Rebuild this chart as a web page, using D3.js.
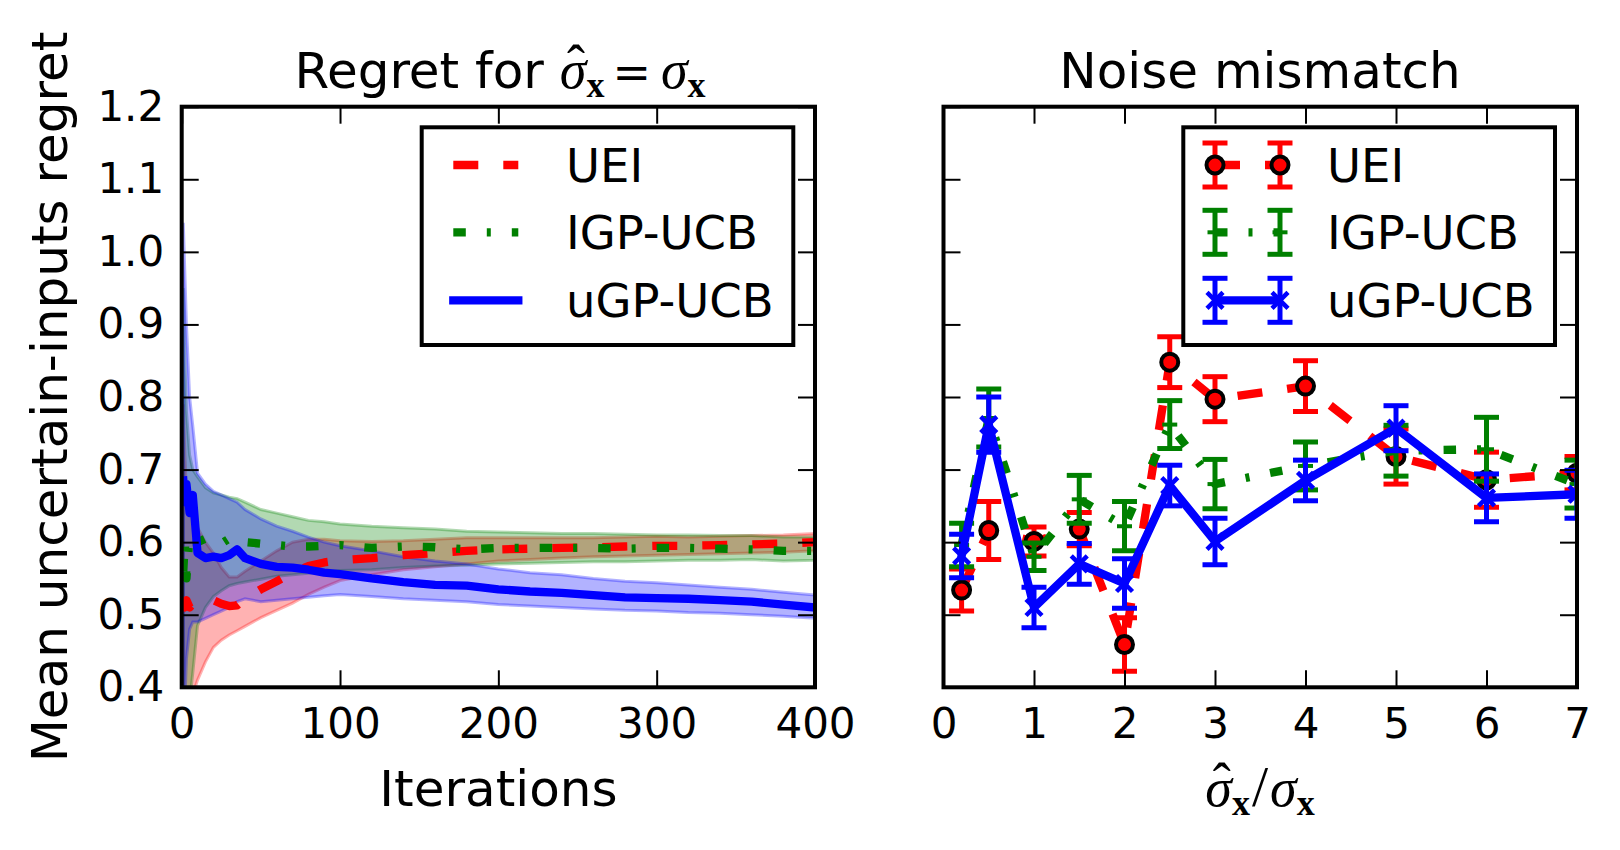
<!DOCTYPE html>
<html>
<head>
<meta charset="utf-8">
<script src="https://cdn.jsdelivr.net/npm/d3@7"></script>
<style>body{margin:0;background:#fff}</style>
</head>
<body>
<div id="chart"></div>
<script>
// left panel: regret vs iterations (mean and band edges)
const iters = [1, 2, 3, 5, 7, 10, 15, 20, 25, 30, 35, 40, 50, 60, 70, 80, 90, 100, 120, 140, 160, 180, 200, 220, 240, 260, 280, 300, 320, 340, 360, 380, 400];
const ueiMean = [0.52, 0.51, 0.52, 0.51, 0.515, 0.515, 0.518, 0.52, 0.515, 0.512, 0.513, 0.522, 0.535, 0.546, 0.558, 0.567, 0.572, 0.575, 0.578, 0.582, 0.585, 0.588, 0.59, 0.591, 0.592, 0.593, 0.594, 0.595, 0.595, 0.596, 0.597, 0.598, 0.6];
const ueiLo = [0.25, 0.3, 0.34, 0.37, 0.39, 0.41, 0.435, 0.455, 0.465, 0.472, 0.478, 0.484, 0.496, 0.506, 0.516, 0.528, 0.538, 0.547, 0.555, 0.562, 0.566, 0.57, 0.574, 0.576, 0.578, 0.58, 0.581, 0.582, 0.583, 0.584, 0.585, 0.586, 0.588];
const ueiHi = [0.79, 0.72, 0.67, 0.65, 0.64, 0.62, 0.6, 0.585, 0.565, 0.552, 0.552, 0.56, 0.574, 0.588, 0.6, 0.604, 0.604, 0.602, 0.601, 0.602, 0.604, 0.606, 0.606, 0.606, 0.606, 0.606, 0.607, 0.608, 0.607, 0.608, 0.609, 0.61, 0.612];
const igpMean = [0.56, 0.6, 0.55, 0.61, 0.6, 0.6, 0.605, 0.6, 0.598, 0.605, 0.603, 0.6, 0.598, 0.596, 0.594, 0.594, 0.595, 0.596, 0.592, 0.594, 0.593, 0.59, 0.592, 0.592, 0.592, 0.592, 0.591, 0.592, 0.592, 0.591, 0.59, 0.588, 0.588];
const igpLo = [0.2, 0.3, 0.34, 0.38, 0.42, 0.485, 0.51, 0.525, 0.533, 0.54, 0.543, 0.545, 0.549, 0.553, 0.555, 0.557, 0.559, 0.561, 0.562, 0.565, 0.567, 0.568, 0.57, 0.571, 0.572, 0.573, 0.573, 0.574, 0.575, 0.575, 0.576, 0.574, 0.575];
const igpHi = [0.95, 0.85, 0.78, 0.72, 0.7, 0.69, 0.675, 0.668, 0.665, 0.662, 0.66, 0.655, 0.645, 0.64, 0.635, 0.63, 0.628, 0.625, 0.622, 0.62, 0.618, 0.615, 0.614, 0.613, 0.612, 0.612, 0.611, 0.61, 0.61, 0.609, 0.609, 0.607, 0.607];
const ugpMean = [0.685, 0.655, 0.68, 0.64, 0.665, 0.585, 0.578, 0.58, 0.578, 0.582, 0.59, 0.578, 0.57, 0.566, 0.565, 0.562, 0.558, 0.556, 0.55, 0.545, 0.541, 0.54, 0.535, 0.532, 0.53, 0.527, 0.524, 0.523, 0.522, 0.52, 0.518, 0.514, 0.51];
const ugpLo = [0.3, 0.38, 0.44, 0.48, 0.49, 0.49, 0.495, 0.5, 0.505, 0.51, 0.518, 0.522, 0.518, 0.52, 0.522, 0.524, 0.526, 0.528, 0.525, 0.522, 0.52, 0.518, 0.514, 0.512, 0.51, 0.508, 0.506, 0.505, 0.503, 0.502, 0.5, 0.498, 0.495];
const ugpHi = [1.04, 0.97, 0.9, 0.8, 0.76, 0.695, 0.68, 0.67, 0.665, 0.66, 0.655, 0.645, 0.632, 0.622, 0.615, 0.607, 0.6, 0.595, 0.588, 0.58, 0.574, 0.57, 0.563, 0.558, 0.555, 0.55, 0.546, 0.544, 0.541, 0.538, 0.535, 0.531, 0.527];

// right panel: noise mismatch
const ratios = [0.2, 0.5, 1, 1.5, 2, 2.5, 3, 4, 5, 6, 7];
const ueiR = [0.534, 0.616, 0.601, 0.618, 0.459, 0.848, 0.797, 0.815, 0.718, 0.686, 0.695];
const ueiErr = [0.029, 0.04, 0.02, 0.023, 0.037, 0.035, 0.031, 0.035, 0.038, 0.038, 0.023];
const igpR = [0.596, 0.771, 0.58, 0.659, 0.622, 0.762, 0.68, 0.705, 0.726, 0.728, 0.68];
const igpErr = [0.03, 0.04, 0.019, 0.033, 0.034, 0.033, 0.034, 0.033, 0.035, 0.044, 0.033];
const ugpR = [0.581, 0.762, 0.51, 0.57, 0.543, 0.678, 0.601, 0.685, 0.757, 0.661, 0.666];
const ugpErr = [0.03, 0.038, 0.028, 0.028, 0.034, 0.028, 0.032, 0.028, 0.031, 0.033, 0.033];

const names = ['UEI', 'IGP-UCB', 'uGP-UCB'];
const colors = ['#ff0000', '#008000', '#0000ff'];
const yTicks = [0.4, 0.5, 0.6, 0.7, 0.8, 0.9, 1.0, 1.1, 1.2];
const xTicksL = [0, 100, 200, 300, 400];
const xTicksR = [0, 1, 2, 3, 4, 5, 6, 7];

const W = 1620, H = 850;
const SANS = '"DejaVu Sans", sans-serif', SERIF = '"Liberation Serif", serif';
const dashes = ['25,25', '12.5,21,4,21', null];
const yTop = 106.7, yBot = 687.3;

const svg = d3.select('#chart').append('svg')
    .attr('width', W).attr('height', H)
    .style('font-family', SANS);
svg.append('rect').attr('width', W).attr('height', H).attr('fill', '#fff');

const y = d3.scaleLinear().domain([0.4, 1.2]).range([yBot, yTop]);
const xL = d3.scaleLinear().domain([0, 400]).range([181.7, 815]);
const xR = d3.scaleLinear().domain([0, 7]).range([943.5, 1577]);

function clip(id, x) {
    svg.append('clipPath').attr('id', id).append('rect')
        .attr('x', x.range()[0]).attr('y', yTop)
        .attr('width', x.range()[1] - x.range()[0]).attr('height', yBot - yTop);
}
clip('clipL', xL);
clip('clipR', xR);

// ---- left panel
const gL = svg.append('g').attr('clip-path', 'url(#clipL)');
const leftData = [[ueiMean, ueiLo, ueiHi], [igpMean, igpLo, igpHi], [ugpMean, ugpLo, ugpHi]];
leftData.forEach(([m, lo, hi], i) => {
    const pts = iters.map((it, k) => ({ it, lo: lo[k], hi: hi[k] }));
    gL.append('path')
        .attr('d', d3.area().x(d => xL(d.it)).y0(d => y(d.lo)).y1(d => y(d.hi))(pts))
        .attr('fill', colors[i]).attr('fill-opacity', 0.3)
        .attr('stroke', colors[i]).attr('stroke-opacity', 0.3).attr('stroke-width', 3);
});
leftData.forEach(([m], i) => {
    const pts = iters.map((it, k) => [xL(it), y(m[k])]);
    gL.append('path')
        .attr('d', d3.line()(pts))
        .attr('fill', 'none').attr('stroke', colors[i]).attr('stroke-width', 8.3)
        .attr('stroke-dasharray', dashes[i])
        .attr('stroke-linecap', dashes[i] ? 'butt' : 'square')
        .attr('stroke-linejoin', 'round');
});

// ---- right panel
const gR = svg.append('g').attr('clip-path', 'url(#clipR)');
const rightData = [[ueiR, ueiErr], [igpR, igpErr], [ugpR, ugpErr]];

function marker(g, i, cx, cy) {
    if (i === 0) {
        g.append('circle').attr('cx', cx).attr('cy', cy).attr('r', 8.5)
            .attr('fill', '#ff0000').attr('stroke', '#000').attr('stroke-width', 4);
    } else if (i === 1) {
        g.append('line').attr('x1', cx - 7.5).attr('x2', cx + 7.5).attr('y1', cy).attr('y2', cy)
            .attr('stroke', colors[1]).attr('stroke-width', 4);
    } else {
        g.append('path').attr('d', `M${cx - 8},${cy - 8}L${cx + 8},${cy + 8}M${cx - 8},${cy + 8}L${cx + 8},${cy - 8}`)
            .attr('stroke', colors[2]).attr('stroke-width', 4.5);
    }
}
function errBar(g, i, cx, y1, y2) {
    g.append('line').attr('x1', cx).attr('x2', cx).attr('y1', y1).attr('y2', y2)
        .attr('stroke', colors[i]).attr('stroke-width', 5);
    [y1, y2].forEach(v => g.append('line').attr('x1', cx - 12.5).attr('x2', cx + 12.5)
        .attr('y1', v).attr('y2', v).attr('stroke', colors[i]).attr('stroke-width', 5));
}

rightData.forEach(([m, e], i) => {
    const g = gR.append('g');
    ratios.forEach((r, k) => errBar(g, i, xR(r), y(m[k] - e[k]), y(m[k] + e[k])));
    g.append('path')
        .attr('d', d3.line()(ratios.map((r, k) => [xR(r), y(m[k])])))
        .attr('fill', 'none').attr('stroke', colors[i]).attr('stroke-width', 8.3)
        .attr('stroke-dasharray', dashes[i])
        .attr('stroke-linecap', dashes[i] ? 'butt' : 'square')
        .attr('stroke-linejoin', 'round');
    ratios.forEach((r, k) => marker(g, i, xR(r), y(m[k])));
});

// ---- axes
function axes(x, xticks, showY) {
    const fs = 42;
    const ax = (a) => a.tickSizeInner(-17).tickSizeOuter(0);
    const b = svg.append('g').attr('transform', `translate(0,${yBot})`)
        .call(ax(d3.axisBottom(x).tickValues(xticks).tickPadding(21)).tickFormat(d3.format('d')));
    const t = svg.append('g').attr('transform', `translate(0,${yTop})`)
        .call(ax(d3.axisTop(x).tickValues(xticks)).tickFormat(''));
    const l = svg.append('g').attr('transform', `translate(${x.range()[0]},0)`)
        .call(ax(d3.axisLeft(y).tickValues(yTicks).tickPadding(17.5))
            .tickFormat(showY ? d3.format('.1f') : ''));
    const r = svg.append('g').attr('transform', `translate(${x.range()[1]},0)`)
        .call(ax(d3.axisRight(y).tickValues(yTicks)).tickFormat(''));
    [b, t, l, r].forEach(g => {
        g.select('.domain').remove();
        g.selectAll('.tick line').attr('stroke', '#000').attr('stroke-width', 2);
        g.selectAll('.tick text').attr('font-size', fs).attr('font-family', SANS).attr('fill', '#000');
    });
    svg.append('rect')
        .attr('x', x.range()[0]).attr('y', yTop)
        .attr('width', x.range()[1] - x.range()[0]).attr('height', yBot - yTop)
        .attr('fill', 'none').attr('stroke', '#000').attr('stroke-width', 4);
}
axes(xL, xTicksL, true);
axes(xR, xTicksR, false);

// ---- math-ish text; a hat is a tspan pulled back over its sigma
function mathText(x, yy, parts) {
    const t = svg.append('text').attr('x', x).attr('y', yy).attr('text-anchor', 'middle').attr('fill', '#000');
    const fix = [];
    parts.forEach(p => {
        const sp = t.append('tspan').text(p.t)
            .attr('font-family', p.f || SERIF).attr('font-size', p.s)
            .attr('font-style', p.i ? 'italic' : null)
            .attr('font-weight', p.b ? 'bold' : null)
            .attr('dy', p.dy || 0).attr('dx', p.dx || 0);
        if (fix.length && fix[fix.length - 1].next === null) fix[fix.length - 1].next = { sp, p };
        if (p.hat) {
            const h = t.append('tspan').text('\u02C6').attr('font-family', SERIF).attr('font-size', p.s).attr('dy', -5);
            fix.push({ base: sp, hat: h, next: null });
        }
    });
    fix.forEach(f => {
        const wb = f.base.node().getComputedTextLength();
        const wh = f.hat.node().getComputedTextLength();
        f.hat.attr('dx', -wb / 2 + 3 - wh / 2);
        if (f.next) {
            f.next.sp.attr('dx', (f.next.p.dx || 0) + wb / 2 - 3 - wh / 2)
                .attr('dy', (f.next.p.dy || 0) + 5);
        }
    });
}

mathText(500, 88, [
    { t: 'Regret for ', f: SANS, s: 50 },
    { t: 'σ', s: 54, i: true, hat: true },
    { t: 'x', s: 36, b: true, dy: 9 },
    { t: '=', f: SANS, s: 46, dy: -9, dx: 8 },
    { t: 'σ', s: 54, i: true, dx: 10 },
    { t: 'x', s: 36, b: true, dy: 9 }
]);

svg.append('text').attr('x', 1260).attr('y', 88).attr('text-anchor', 'middle')
    .attr('font-size', 50).text('Noise mismatch');

svg.append('text').attr('x', 498.4).attr('y', 806).attr('text-anchor', 'middle')
    .attr('font-size', 50).text('Iterations');

svg.append('text').attr('transform', `translate(67,${(yTop + yBot) / 2}) rotate(-90)`)
    .attr('text-anchor', 'middle').attr('font-size', 50).text('Mean uncertain-inputs regret');

mathText(1260, 806, [
    { t: 'σ', s: 54, i: true, hat: true },
    { t: 'x', s: 36, b: true, dy: 9 },
    { t: '/', s: 58, dy: -9, dx: 2 },
    { t: 'σ', s: 54, i: true, dx: 2 },
    { t: 'x', s: 36, b: true, dy: 9 }
]);

// ---- legends
const rows = [165, 232.3, 300.3];
function legendBox(x0, x1) {
    svg.append('rect').attr('x', x0).attr('y', 127.3).attr('width', x1 - x0).attr('height', 345 - 127.3)
        .attr('fill', '#fff').attr('stroke', '#000').attr('stroke-width', 4);
}
legendBox(421.7, 793.3);
names.forEach((n, i) => {
    svg.append('line').attr('x1', 453.3).attr('x2', 518.3).attr('y1', rows[i]).attr('y2', rows[i])
        .attr('stroke', colors[i]).attr('stroke-width', 8.3)
        .attr('stroke-dasharray', dashes[i])
        .attr('stroke-linecap', dashes[i] ? 'butt' : 'square');
    svg.append('text').attr('x', 566).attr('y', rows[i] + 17).attr('font-size', 46.5).text(n);
});

legendBox(1183.3, 1555);
names.forEach((n, i) => {
    const g = svg.append('g');
    [1215, 1280].forEach(cx => errBar(g, i, cx, rows[i] - 22, rows[i] + 22));
    g.append('line').attr('x1', 1215).attr('x2', 1280).attr('y1', rows[i]).attr('y2', rows[i])
        .attr('stroke', colors[i]).attr('stroke-width', 8.3)
        .attr('stroke-dasharray', dashes[i])
        .attr('stroke-linecap', 'butt');
    [1215, 1280].forEach(cx => marker(g, i, cx, rows[i]));
    svg.append('text').attr('x', 1327).attr('y', rows[i] + 17).attr('font-size', 46.5).text(n);
});
</script>
</body>
</html>
